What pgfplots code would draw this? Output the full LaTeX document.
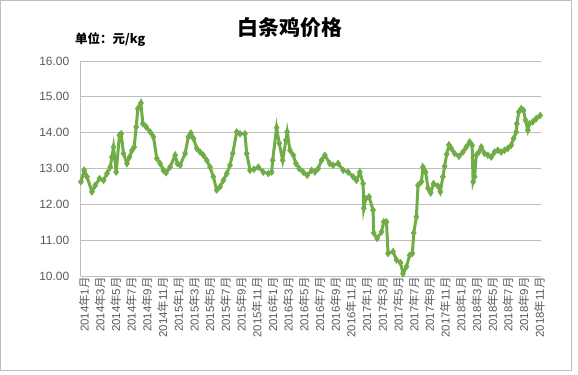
\documentclass[border=0pt]{standalone}
\usepackage{pgfplots}
\pgfplotsset{compat=1.18}
\usepackage{fontspec}
\setmainfont{Liberation Sans}
\newfontfamily\cjk{Noto Sans CJK SC}
\definecolor{lgreen}{RGB}{112,173,71}
\definecolor{tgray}{RGB}{89,89,89}
\definecolor{ggray}{RGB}{190,190,190}
\newcommand{\lab}[2]{#1{\cjk 年}#2{\cjk 月}}
\begin{document}
\begin{tikzpicture}[x=1bp,y=1bp]
\path[use as bounding box] (0,0) rectangle (578,374);
\draw[ggray, line width=0.8bp] (0.5,4) rectangle (571,373.5);
\node[font=\cjk\bfseries\fontsize{21}{24}\selectfont] at (290,346) {白条鸡价格};
\node[font=\cjk\bfseries\fontsize{12.5}{14}\selectfont, anchor=west, inner sep=0pt] at (75,334) {单位：元/kg};
\begin{axis}[
  at={(80.7bp,98bp)}, anchor=south west,
  width=460.3bp, height=215bp, scale only axis,
  xmin=-0.2, xmax=58.45, ymin=10, ymax=16,
  ytick={10,11,...,16},
  xtick={0,2,...,58},
  xticklabels={\lab{2014}{1},\lab{2014}{3},\lab{2014}{5},\lab{2014}{7},\lab{2014}{9},\lab{2014}{11},
    \lab{2015}{1},\lab{2015}{3},\lab{2015}{5},\lab{2015}{7},\lab{2015}{9},\lab{2015}{11},
    \lab{2016}{1},\lab{2016}{3},\lab{2016}{5},\lab{2016}{7},\lab{2016}{9},\lab{2016}{11},
    \lab{2017}{1},\lab{2017}{3},\lab{2017}{5},\lab{2017}{7},\lab{2017}{9},\lab{2017}{11},
    \lab{2018}{1},\lab{2018}{3},\lab{2018}{5},\lab{2018}{7},\lab{2018}{9},\lab{2018}{11}},
  xticklabel style={rotate=90, anchor=east, font=\fontsize{11.5}{13}\selectfont, text=tgray, inner sep=1bp, yshift=-2bp},
  yticklabel style={font=\fontsize{12}{14}\selectfont, text=tgray, xshift=-8bp},
  yticklabel={\pgfmathprintnumber[fixed,fixed zerofill,precision=2,assume math mode=true]{\tick}},
  major tick length=0pt,
  ymajorgrids, grid style={ggray, line width=0.8bp},
  axis x line*=bottom, axis y line*=left,
  x axis line style={-, draw=ggray, line width=0.8bp},
  y axis line style={-, draw=ggray, line width=0.8bp},
  clip=false,
]
\addplot[lgreen, line width=3bp, mark=diamond*, mark size=3.4bp, mark options={fill=lgreen, draw=lgreen, line width=0.5bp}] table {
x y
-0.17 12.63
0.25 12.95
0.60 12.77
1.23 12.35
1.65 12.53
2.20 12.72
2.71 12.67
3.14 12.86
3.56 13.04
3.78 13.32
3.98 13.60
4.32 12.90
4.74 13.93
4.96 13.97
5.25 13.42
5.69 13.14
6.02 13.32
6.32 13.50
6.61 13.60
6.87 14.16
7.08 14.67
7.47 14.83
7.72 14.25
8.14 14.16
8.65 14.02
9.07 13.88
9.50 13.28
9.92 13.14
10.34 12.95
10.68 12.88
11.19 13.04
11.83 13.37
12.12 13.14
12.47 13.09
13.10 13.42
13.52 13.88
13.83 13.99
14.16 13.84
14.59 13.56
15.01 13.46
15.43 13.37
15.86 13.23
16.28 13.04
16.70 12.77
17.13 12.40
17.55 12.49
17.97 12.67
18.41 12.86
18.82 13.09
19.17 13.42
19.68 14.02
20.10 13.97
20.73 13.97
20.95 13.42
21.37 12.95
21.88 12.98
22.43 13.04
23.06 12.90
23.70 12.86
24.13 12.90
24.26 13.23
24.76 14.14
25.10 13.70
25.53 13.23
25.95 13.79
26.11 14.02
26.46 13.51
26.88 13.37
27.22 13.14
27.64 13.00
28.15 12.90
28.66 12.81
29.22 12.95
29.64 12.90
30.06 13.00
30.49 13.23
30.91 13.37
31.54 13.14
31.96 13.09
32.60 13.14
33.24 12.95
33.87 12.90
34.51 12.77
34.94 12.67
35.36 12.90
35.78 12.58
35.87 11.89
36.12 12.16
36.54 12.21
37.05 11.84
37.14 11.20
37.56 11.05
38.12 11.23
38.41 11.51
38.76 11.51
38.96 10.63
39.60 10.68
40.03 10.45
40.54 10.37
40.87 10.07
41.30 10.26
41.72 10.58
42.06 10.63
42.23 11.20
42.57 11.65
42.78 12.53
43.21 12.63
43.41 13.04
43.75 12.90
44.05 12.45
44.39 12.32
44.77 12.58
45.32 12.51
45.62 12.35
45.95 12.77
46.17 13.06
46.43 13.40
46.72 13.66
47.02 13.56
47.44 13.42
47.99 13.34
48.50 13.46
48.93 13.60
49.35 13.74
49.67 13.65
49.80 12.63
49.99 12.77
50.20 13.37
50.53 13.46
50.84 13.60
51.26 13.42
51.68 13.37
52.11 13.32
52.53 13.46
52.95 13.51
53.38 13.46
53.80 13.51
54.22 13.56
54.65 13.65
54.95 13.84
55.29 14.02
55.37 14.25
55.62 14.58
55.93 14.67
56.22 14.62
56.47 14.35
56.77 14.07
56.98 14.25
57.40 14.30
57.83 14.39
58.34 14.48
};
\end{axis}
\end{tikzpicture}
\end{document}
